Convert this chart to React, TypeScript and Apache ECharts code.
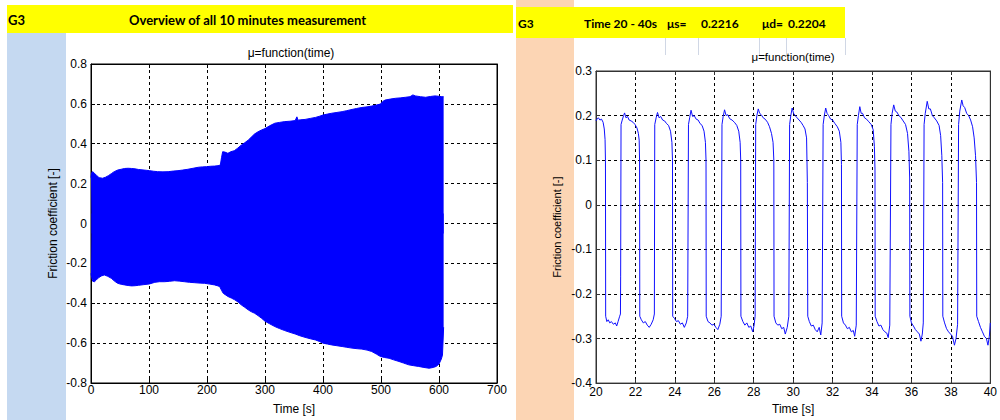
import React, { useEffect, useRef } from "react";
import * as echarts from "echarts";

// ---------- DATA ----------
// Left chart: envelope of the 10-minute measurement (time [s], friction coefficient)
const overviewUpper: [number, number][] = [
  [0, 0.23], [1, 0.255], [3, 0.26], [6, 0.252], [10, 0.24], [14, 0.23], [20, 0.227], [25, 0.232],
  [30, 0.24], [35, 0.25], [40, 0.26], [46, 0.268], [52, 0.272], [58, 0.276], [64, 0.277], [70, 0.276],
  [76, 0.274], [82, 0.271], [88, 0.269], [95, 0.267], [101, 0.265], [108, 0.262], [115, 0.26],
  [124, 0.259], [133, 0.26], [142, 0.263], [150, 0.265], [158, 0.268], [167, 0.272], [176, 0.277],
  [185, 0.282], [192, 0.284], [199, 0.285], [206, 0.287], [213, 0.288], [219, 0.29], [223, 0.293],
  [225, 0.33], [227, 0.36], [231, 0.358], [236, 0.352], [241, 0.36], [247, 0.365], [253, 0.378],
  [259, 0.393], [265, 0.405], [271, 0.418], [276, 0.432], [282, 0.449], [288, 0.46], [294, 0.469],
  [300, 0.476], [308, 0.49], [317, 0.503], [325, 0.507], [334, 0.511], [343, 0.513], [352, 0.516],
  [355, 0.535], [357, 0.518], [361, 0.52], [369, 0.522], [378, 0.527], [387, 0.532], [394, 0.538],
  [400, 0.544], [408, 0.549], [415, 0.553], [424, 0.557], [433, 0.561], [441, 0.566], [450, 0.572],
  [458, 0.577], [467, 0.582], [476, 0.585], [484, 0.589], [492, 0.594], [499, 0.599], [503, 0.612],
  [507, 0.619], [516, 0.624], [525, 0.628], [533, 0.63], [542, 0.633], [550, 0.636], [555, 0.645],
  [559, 0.64], [568, 0.636], [577, 0.633], [585, 0.637], [593, 0.64], [600, 0.638], [605, 0.636],
  [608, 0.636],
];
const overviewLower: [number, number][] = [
  [0, -0.25], [1, -0.27], [3, -0.29], [6, -0.292], [9, -0.284], [13, -0.272], [18, -0.263],
  [23, -0.258], [29, -0.265], [35, -0.275], [41, -0.29], [46, -0.3], [52, -0.305], [58, -0.308],
  [64, -0.311], [70, -0.313], [76, -0.312], [82, -0.31], [90, -0.307], [101, -0.303], [110, -0.295],
  [118, -0.292], [127, -0.292], [135, -0.29], [144, -0.287], [152, -0.289], [161, -0.292],
  [170, -0.295], [179, -0.297], [188, -0.299], [196, -0.3], [205, -0.304], [213, -0.308],
  [219, -0.313], [222, -0.317], [225, -0.335], [228, -0.35], [232, -0.358], [236, -0.366],
  [242, -0.374], [248, -0.383], [254, -0.395], [259, -0.408], [265, -0.42], [271, -0.433],
  [276, -0.442], [282, -0.45], [288, -0.462], [294, -0.475], [300, -0.49], [308, -0.503],
  [317, -0.517], [325, -0.527], [334, -0.537], [343, -0.546], [352, -0.554], [360, -0.563],
  [369, -0.571], [378, -0.578], [387, -0.584], [394, -0.592], [400, -0.6], [408, -0.605],
  [415, -0.609], [424, -0.613], [433, -0.617], [441, -0.621], [450, -0.625], [459, -0.628],
  [467, -0.63], [476, -0.635], [484, -0.642], [492, -0.655], [499, -0.667], [506, -0.672],
  [514, -0.676], [522, -0.684], [531, -0.692], [539, -0.7], [548, -0.709], [556, -0.713],
  [565, -0.717], [574, -0.722], [583, -0.726], [590, -0.722], [595, -0.717], [600, -0.705],
  [604, -0.68], [606, -0.66], [608, -0.52],
];

// Right chart: time window 20 - 40 s (time [s], friction coefficient)
const windowSeries: [number, number][] = [
  [20.0, 0.188], [20.06, 0.193], [20.12, 0.195], [20.2, 0.19], [20.28, 0.192], [20.36, 0.185], [20.42, 0.17], [20.46, 0.146], [20.48, 0.1], [20.49, -0.25],
  [20.55, -0.262], [20.62, -0.258], [20.7, -0.265], [20.78, -0.262], [20.88, -0.268], [20.98, -0.265], [21.05, -0.272], [21.12, -0.262], [21.2, -0.25], [21.24, -0.245],
  [21.25, -0.16], [21.27, 0.18], [21.33, 0.19], [21.4, 0.2], [21.45, 0.206], [21.52, 0.195], [21.6, 0.198], [21.68, 0.19], [21.78, 0.188], [21.88, 0.185], [21.98, 0.18], [22.08, 0.172], [22.15, 0.16], [22.19, 0.145], [22.21, 0.1], [22.22, -0.25],
  [22.3, -0.258], [22.4, -0.265], [22.5, -0.262], [22.6, -0.27], [22.7, -0.275], [22.8, -0.268], [22.9, -0.258], [22.96, -0.245],
  [22.98, 0.18], [23.05, 0.195], [23.12, 0.207], [23.2, 0.195], [23.28, 0.198], [23.38, 0.19], [23.48, 0.188], [23.58, 0.182], [23.68, 0.178], [23.78, 0.165], [23.85, 0.14], [23.88, 0.1], [23.89, -0.25],
  [23.98, -0.255], [24.08, -0.262], [24.18, -0.26], [24.28, -0.268], [24.38, -0.265], [24.48, -0.275], [24.58, -0.265], [24.65, -0.25],
  [24.69, 0.18], [24.75, 0.195], [24.82, 0.212], [24.9, 0.198], [24.98, 0.2], [25.08, 0.192], [25.18, 0.19], [25.28, 0.182], [25.38, 0.178], [25.48, 0.165], [25.55, 0.14], [25.58, 0.1], [25.59, -0.25],
  [25.68, -0.262], [25.78, -0.265], [25.88, -0.27], [25.98, -0.268], [26.08, -0.275], [26.18, -0.28], [26.28, -0.268], [26.35, -0.25],
  [26.39, 0.18], [26.45, 0.198], [26.52, 0.213], [26.6, 0.2], [26.68, 0.202], [26.78, 0.193], [26.9, 0.19], [27.02, 0.185], [27.14, 0.178], [27.24, 0.165], [27.31, 0.14], [27.34, 0.1], [27.35, -0.25],
  [27.45, -0.262], [27.55, -0.27], [27.65, -0.265], [27.75, -0.275], [27.85, -0.272], [27.95, -0.285], [28.02, -0.27], [28.07, -0.25],
  [28.1, 0.18], [28.16, 0.2], [28.23, 0.215], [28.3, 0.205], [28.38, 0.202], [28.48, 0.195], [28.58, 0.192], [28.7, 0.185], [28.8, 0.175], [28.9, 0.16], [28.98, 0.14], [29.02, 0.1], [29.03, -0.25],
  [29.12, -0.265], [29.22, -0.27], [29.32, -0.268], [29.42, -0.278], [29.52, -0.275], [29.6, -0.29], [29.7, -0.275], [29.78, -0.25],
  [29.82, 0.18], [29.88, 0.2], [29.95, 0.217], [30.02, 0.205], [30.1, 0.2], [30.2, 0.195], [30.3, 0.19], [30.4, 0.185], [30.5, 0.178], [30.6, 0.17], [30.68, 0.15], [30.72, 0.05], [30.74, -0.25],
  [30.82, -0.262], [30.92, -0.272], [31.02, -0.27], [31.12, -0.28], [31.22, -0.285], [31.32, -0.275], [31.4, -0.292], [31.47, -0.265],
  [31.52, 0.18], [31.58, 0.2], [31.65, 0.217], [31.72, 0.205], [31.8, 0.2], [31.9, 0.192], [32.0, 0.19], [32.12, 0.182], [32.24, 0.175], [32.34, 0.165], [32.42, 0.14], [32.45, 0.09], [32.46, -0.25],
  [32.55, -0.265], [32.65, -0.27], [32.75, -0.278], [32.85, -0.275], [32.95, -0.285], [33.05, -0.282], [33.12, -0.295], [33.2, -0.27],
  [33.25, 0.18], [33.31, 0.2], [33.38, 0.22], [33.45, 0.205], [33.52, 0.205], [33.62, 0.195], [33.72, 0.192], [33.84, 0.186], [33.96, 0.18], [34.06, 0.168], [34.12, 0.13], [34.15, 0.08], [34.16, -0.25],
  [34.25, -0.262], [34.35, -0.272], [34.45, -0.27], [34.55, -0.28], [34.65, -0.285], [34.75, -0.288], [34.82, -0.298], [34.9, -0.27],
  [34.96, 0.18], [35.02, 0.205], [35.1, 0.224], [35.18, 0.21], [35.26, 0.208], [35.36, 0.2], [35.46, 0.196], [35.58, 0.188], [35.7, 0.18], [35.8, 0.16], [35.87, 0.12], [35.91, 0.06], [35.92, -0.25],
  [36.0, -0.265], [36.1, -0.272], [36.2, -0.28], [36.3, -0.285], [36.4, -0.29], [36.48, -0.306], [36.55, -0.29], [36.6, -0.265],
  [36.64, 0.18], [36.7, 0.205], [36.8, 0.232], [36.88, 0.215], [36.96, 0.215], [37.06, 0.2], [37.16, 0.195], [37.28, 0.188], [37.4, 0.178], [37.48, 0.155], [37.54, 0.11], [37.58, 0.05], [37.59, -0.25],
  [37.68, -0.265], [37.78, -0.278], [37.88, -0.285], [37.98, -0.29], [38.08, -0.295], [38.18, -0.315], [38.26, -0.3], [38.34, -0.268],
  [38.39, 0.18], [38.45, 0.21], [38.55, 0.235], [38.62, 0.222], [38.7, 0.218], [38.8, 0.205], [38.9, 0.2], [39.0, 0.19], [39.1, 0.175], [39.18, 0.15], [39.25, 0.11], [39.3, 0.05], [39.31, -0.25],
  [39.4, -0.262], [39.5, -0.275], [39.6, -0.285], [39.7, -0.295], [39.8, -0.3], [39.88, -0.315], [39.95, -0.295], [40.0, -0.265],
];

// Header texts
const leftHeader = { id: "G3", title: "Overview of all 10 minutes measurement" };
const rightHeader = { id: "G3", window: "Time 20 - 40s", muS: "μs=", muSValue: "0.2216", muD: "μd=", muDValue: "0.2204" };
const plotTitle = "μ=function(time)";
const xName = "Time [s]";
const yName = "Friction coefficient [-]";

// ---------- CHART ----------
const FONT = "Liberation Sans, Arial, sans-serif";
const HFONT_L = "bold 13px Lato, sans-serif";
const HFONT_R = "bold 12px Lato, sans-serif";
const fmt = (v: number) => String(Math.round(v * 10) / 10);

function axisPair(
  gridIndex: number,
  min: number,
  max: number,
  interval: number,
  kind: "x" | "y",
  boxColor: string,
  name: string,
  nameGap: number,
  nameSize: number,
  labelMargin: number
) {
  const main: any = {
    type: "value",
    gridIndex,
    min,
    max,
    interval,
    position: kind === "x" ? "bottom" : "left",
    axisLine: { show: true, onZero: false, lineStyle: { color: boxColor, width: 1 } },
    axisTick: { show: true, inside: true, length: 4, lineStyle: { color: boxColor } },
    axisLabel: { show: true, color: "#000", fontSize: 12, fontFamily: FONT, margin: labelMargin, formatter: fmt },
    splitLine: { show: true, lineStyle: { color: "#000", width: 1, type: [3, 3] } },
    name,
    nameLocation: "middle",
    nameGap,
    nameTextStyle: { color: "#000", fontSize: nameSize, fontFamily: FONT },
  };
  const mirror: any = {
    type: "value",
    gridIndex,
    min,
    max,
    interval,
    position: kind === "x" ? "top" : "right",
    axisLine: { show: true, onZero: false, lineStyle: { color: boxColor, width: 1 } },
    axisTick: { show: true, inside: true, length: 4, lineStyle: { color: boxColor } },
    axisLabel: { show: false },
    splitLine: { show: false },
  };
  return [main, mirror];
}

export default function App() {
  const ref = useRef<HTMLDivElement>(null);

  useEffect(() => {
    if (!ref.current) return;
    const chart = echarts.init(ref.current, null, { renderer: "svg" });

    const headerText = (text: string, x: number, y: number, font: string) => ({
      type: "text",
      x,
      y,
      z: 10,
      style: { text, font, fill: "#000", textAlign: "left", textVerticalAlign: "middle" },
    });

    const option: any = {
      animation: false,
      backgroundColor: "#fff",
      textStyle: { fontFamily: FONT },
      grid: [
        { left: 91, top: 64, width: 406, height: 319, show: true, borderColor: "#000", borderWidth: 1, backgroundColor: "transparent" },
        { left: 596, top: 71, width: 399, height: 314, show: true, borderColor: "#333", borderWidth: 1, backgroundColor: "transparent" },
      ],
      xAxis: [
        ...axisPair(0, 0, 700, 100, "x", "#000", xName, 20, 12, 1),
        ...axisPair(1, 20, 40, 2, "x", "#333", xName, 19, 12, 3),
      ],
      yAxis: [
        ...axisPair(0, -0.8, 0.8, 0.2, "y", "#000", yName, 32, 12, 4),
        ...axisPair(1, -0.4, 0.3, 0.1, "y", "#333", yName, 34, 11, 4),
      ],
      graphic: [
        // background cells
        { type: "rect", z: -5, shape: { x: 7, y: 5, width: 506, height: 28 }, style: { fill: "#ffff00" } },
        { type: "rect", z: -5, shape: { x: 7, y: 33, width: 59, height: 387 }, style: { fill: "#c5d9f1" } },
        { type: "rect", z: -5, shape: { x: 516, y: 0, width: 58, height: 420 }, style: { fill: "#fcd5b4" } },
        { type: "rect", z: -4, shape: { x: 516, y: 7, width: 329, height: 31 }, style: { fill: "#ffff00" } },
        ...[665, 698, 759, 786, 845].map((x) => ({
          type: "line",
          z: -4,
          shape: { x1: x + 0.5, y1: 38, x2: x + 0.5, y2: 55 },
          style: { stroke: "#d0d7e5", lineWidth: 1 },
        })),
        // header texts
        headerText(leftHeader.id, 8, 19.5, HFONT_L),
        headerText(leftHeader.title, 129, 19.5, HFONT_L),
        headerText(rightHeader.id, 518, 23, HFONT_R),
        headerText(rightHeader.window, 584, 23, HFONT_R),
        headerText(rightHeader.muS, 667, 23, HFONT_R),
        headerText(rightHeader.muSValue, 701, 23, HFONT_R),
        headerText(rightHeader.muD, 762, 23, HFONT_R),
        headerText(rightHeader.muDValue, 788, 23, HFONT_R),
        // plot titles
        {
          type: "text", x: 291, y: 53, z: 10,
          style: { text: plotTitle, font: `12px ${FONT}`, fill: "#000", textAlign: "center", textVerticalAlign: "middle" },
        },
        {
          type: "text", x: 793, y: 57, z: 10,
          style: { text: plotTitle, font: `11.5px ${FONT}`, fill: "#000", textAlign: "center", textVerticalAlign: "middle" },
        },
      ],
      series: [
        {
          type: "line",
          xAxisIndex: 0,
          yAxisIndex: 0,
          data: overviewUpper,
          symbol: "none",
          lineStyle: { color: "#0000ff", width: 1 },
          areaStyle: { color: "#0000ff", opacity: 1, origin: -0.05 },
          z: 3,
        },
        {
          type: "line",
          xAxisIndex: 0,
          yAxisIndex: 0,
          data: overviewLower,
          symbol: "none",
          lineStyle: { color: "#0000ff", width: 1 },
          areaStyle: { color: "#0000ff", opacity: 1, origin: 0.05 },
          z: 3,
        },
        {
          type: "line",
          xAxisIndex: 2,
          yAxisIndex: 2,
          data: windowSeries,
          symbol: "none",
          lineStyle: { color: "#1010ff", width: 1 },
          z: 3,
        },
      ],
    };

    chart.setOption(option);
    return () => chart.dispose();
  }, []);

  return (
    <div
      ref={ref}
      style={{ position: "fixed", left: 0, top: 0, width: 1000, height: 420, background: "#fff" }}
    />
  );
}
